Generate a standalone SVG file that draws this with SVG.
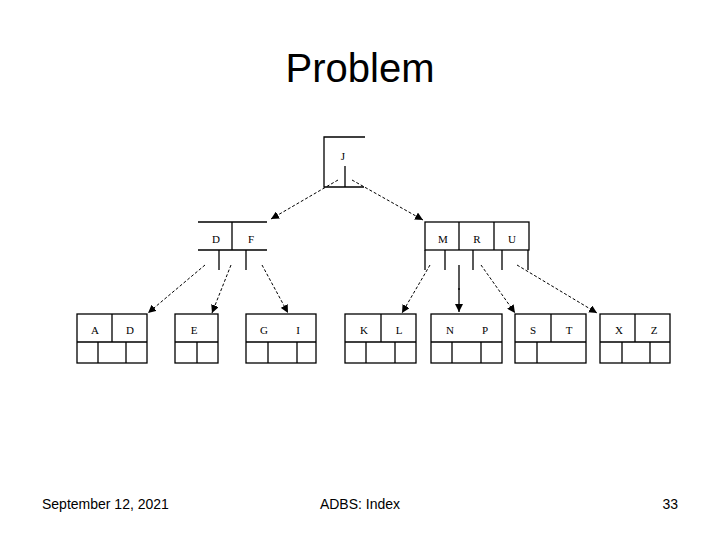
<svg xmlns="http://www.w3.org/2000/svg" width="720" height="540" viewBox="0 0 720 540">
<style>
.b{fill:none;stroke:#000;stroke-width:1.3}
.c{stroke:#000;stroke-width:1;stroke-dasharray:3 2;fill:none}
.k{font-family:"Liberation Serif",serif;font-size:11px;text-anchor:middle}
.f{font-family:"Liberation Sans",sans-serif;font-size:14px}
</style>
<defs><marker id="a" viewBox="0 0 10 10" refX="10" refY="5" markerWidth="8" markerHeight="8" orient="auto" markerUnits="userSpaceOnUse"><path d="M0,0L10,5L0,10z"/></marker></defs>
<rect width="720" height="540" fill="#fff"/>
<text x="360" y="82" font-family="Liberation Sans,sans-serif" font-size="40" text-anchor="middle">Problem</text>
<g id="root"><path class="b" d="M365,137H324V187H364M345,166V187"/><text class="k" x="343" y="160">J</text></g>
<g id="DF"><path class="b" d="M198,222H267M198,250H267M232,222V250M219,250V270M246,250V270"/><text class="k" x="216" y="243">D</text><text class="k" x="251" y="243">F</text></g>
<g id="MRU"><rect class="b" x="425" y="222" width="104" height="28"/><path class="b" d="M459,222V250M494,222V250M425,250V270M445,250V270M459,265V290M473,250V270M502,250V270M528,250V270"/><text class="k" x="443" y="243">M</text><text class="k" x="477" y="243">R</text><text class="k" x="512" y="243">U</text></g>
<g id="AD"><rect class="b" x="77" y="314" width="70" height="49"/><path class="b" d="M77,342H147M112,314V342M98,342V363M126,342V363"/><text class="k" x="95" y="334">A</text><text class="k" x="130" y="334">D</text></g>
<g id="E"><rect class="b" x="175" y="314" width="43" height="49"/><path class="b" d="M175,342H218M197,342V363"/><text class="k" x="194" y="334">E</text></g>
<g id="GI"><rect class="b" x="246" y="314" width="70" height="49"/><path class="b" d="M246,342H316M268,342V363M297,342V363"/><text class="k" x="264" y="334">G</text><text class="k" x="298" y="334">I</text></g>
<g id="KL"><rect class="b" x="345" y="314" width="71" height="49"/><path class="b" d="M345,342H416M381,314V342M366,342V363M395,342V363"/><text class="k" x="364" y="334">K</text><text class="k" x="399" y="334">L</text></g>
<g id="NP"><rect class="b" x="431" y="314" width="71" height="49"/><path class="b" d="M431,342H502M452,342V363M481,342V363"/><text class="k" x="450" y="334">N</text><text class="k" x="485" y="334">P</text></g>
<g id="ST"><rect class="b" x="515" y="314" width="71" height="49"/><path class="b" d="M515,342H586M551,314V342M537,342V363"/><text class="k" x="533" y="334">S</text><text class="k" x="569" y="334">T</text></g>
<g id="XZ"><rect class="b" x="600" y="314" width="70" height="49"/><path class="b" d="M600,342H670M635,314V342M622,342V363M650,342V363"/><text class="k" x="619" y="334">X</text><text class="k" x="654" y="334">Z</text></g>
<g id="connectors">
<path class="c" d="M338,180L271,219" marker-end="url(#a)"/>
<path class="c" d="M352,180L423,220" marker-end="url(#a)"/>
<path class="c" d="M205,265L148,313" marker-end="url(#a)"/>
<path class="c" d="M231,265L212,313" marker-end="url(#a)"/>
<path class="c" d="M262,265L288,313" marker-end="url(#a)"/>
<path class="c" d="M430,265L402,313" marker-end="url(#a)"/>
<path class="b" d="M459,288L459,312" marker-end="url(#a)"/>
<path class="c" d="M481,265L515,313" marker-end="url(#a)"/>
<path class="c" d="M517,265L597,313" marker-end="url(#a)"/>
</g>
<text class="f" x="42" y="509">September 12, 2021</text>
<text class="f" x="360" y="509" text-anchor="middle">ADBS: Index</text>
<text class="f" x="678" y="509" text-anchor="end">33</text>
</svg>
